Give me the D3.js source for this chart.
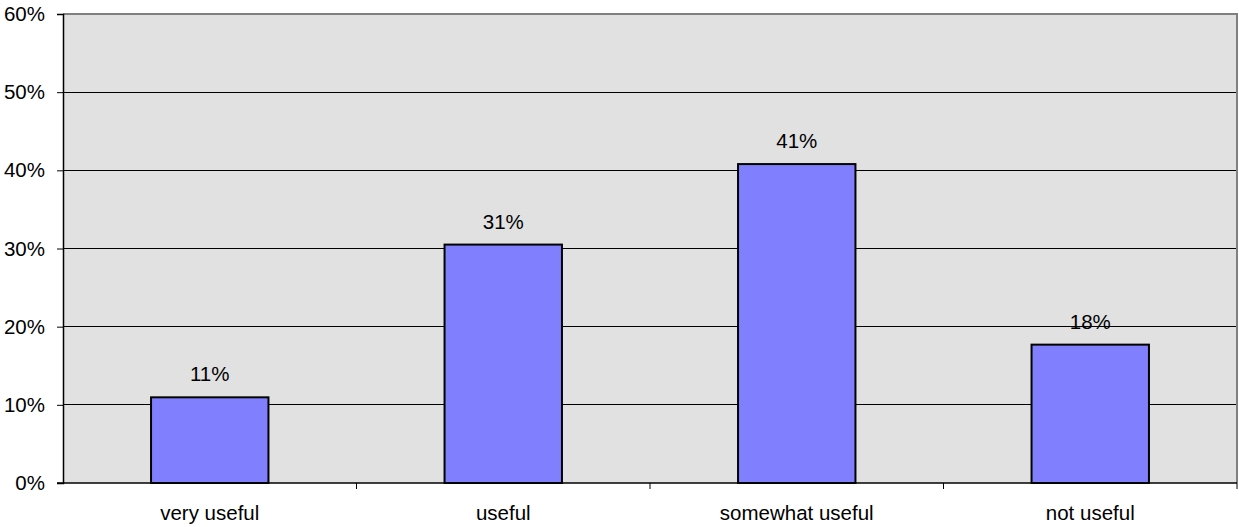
<!DOCTYPE html>
<html><head><meta charset="utf-8">
<script src="https://cdn.jsdelivr.net/npm/d3@7"></script>
<style>body{margin:0;background:#fff}svg{display:block;font-family:Arial,"Liberation Sans",sans-serif}</style>
</head><body><svg id="c" width="1239" height="527"></svg>
<script>
const categories = ["very useful", "useful", "somewhat useful", "not useful"];
const values = [0.1096, 0.305, 0.408, 0.177];
const labels = ["11%", "31%", "41%", "18%"];
const yTicks = [0, 0.1, 0.2, 0.3, 0.4, 0.5, 0.6];
const FS = 20.5;

const svg = d3.select("#c");
const m = {l: 63, r: 1237, t: 14, b: 483};
const x = d3.scaleBand().domain(categories).range([m.l, m.r]).paddingInner(0.6).paddingOuter(0.3);
const xb = d3.scaleBand().domain(categories).range([m.l, m.r]);
const y = d3.scaleLinear().domain([0, 0.6]).range([m.b, m.t]);

svg.append("rect").attr("x", m.l).attr("y", m.t).attr("width", m.r - m.l).attr("height", m.b - m.t).attr("fill", "#e1e1e1");
svg.append("g").selectAll("line").data(yTicks.filter(d => d > 0 && d < 0.6)).join("line")
  .attr("x1", m.l).attr("x2", m.r).attr("y1", d => y(d)).attr("y2", d => y(d))
  .attr("stroke", "#000").attr("stroke-width", 1).attr("shape-rendering", "crispEdges");
svg.append("path").attr("d", `M${m.l},${y(0.6)}H${m.r}V${m.b}`).attr("fill", "none").attr("stroke", "#808080").attr("stroke-width", 2);

svg.append("g").selectAll("rect").data(values).join("rect")
  .attr("x", (d, i) => x(categories[i])).attr("width", x.bandwidth())
  .attr("y", d => y(d)).attr("height", d => y(0) - y(d))
  .attr("fill", "#8080ff").attr("stroke", "#000").attr("stroke-width", 2);

svg.append("g").selectAll("text").data(values).join("text")
  .attr("x", (d, i) => x(categories[i]) + x.bandwidth() / 2).attr("y", d => y(d) - 16)
  .attr("text-anchor", "middle").attr("font-size", FS).attr("fill", "#000").text((d, i) => labels[i]);

const ya = svg.append("g").attr("transform", `translate(${m.l},0)`)
  .call(d3.axisLeft(y).tickValues(yTicks).tickFormat(d3.format(".0%")).tickSize(6).tickPadding(12));
ya.select(".domain").attr("stroke", "#000").attr("stroke-width", 1.5);
ya.selectAll("text").attr("font-size", FS).attr("fill", "#000").attr("font-family", "Arial, 'Liberation Sans', sans-serif");

const xg = svg.append("g").attr("transform", `translate(0,${m.b})`);
xg.append("line").attr("x1", m.l - 6).attr("x2", m.r).attr("stroke", "#000").attr("stroke-width", 1.5);
xg.selectAll("line.t").data(categories.slice(1).concat(["end"])).join("line").attr("class", "t")
  .attr("x1", (d, i) => i < 3 ? xb(d) : m.r).attr("x2", (d, i) => i < 3 ? xb(d) : m.r)
  .attr("y1", 0).attr("y2", 6).attr("stroke", "#000");
xg.selectAll("text").data(categories).join("text")
  .attr("x", d => xb(d) + xb.bandwidth() / 2).attr("y", 37)
  .attr("text-anchor", "middle").attr("font-size", FS).attr("fill", "#000").text(d => d);
</script></body></html>
